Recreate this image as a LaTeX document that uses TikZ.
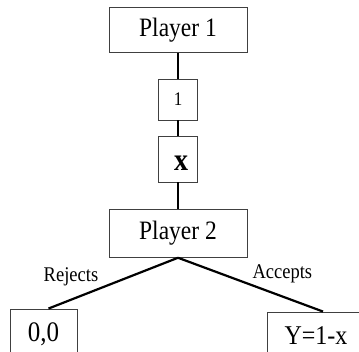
\documentclass[tikz,border=0pt]{standalone}
\usepackage{fontspec}
\usepackage{graphicx}
\setmainfont{Liberation Serif}
\newcommand{\tallt}[1]{\scalebox{1}[1.13]{#1}}
\tikzset{
	box/.style={draw=black!75, line width=0.9pt, rectangle, inner sep=0pt},
	edge/.style={line width=2.2pt},
}
\begin{document}
\begin{tikzpicture}[x=1pt, y=1pt]
				\clip (0,0) rectangle (359,-351);
				\node[box, minimum width=138, minimum height=45, font=\fontsize{23.5}{26}\selectfont] (p1) at (178,-30) {\tallt{Player 1}};
				\node[box, minimum width=39, minimum height=41, font=\fontsize{17}{20}\selectfont] (one) at (178,-99.5) {\tallt{1}};
				\node[box, minimum width=39, minimum height=46] (xbox) at (178,-159) {};
				\node[font=\fontsize{28}{30}\selectfont\bfseries] (xlab) at (181,-163) {\tallt{x}};
				\node[box, minimum width=138, minimum height=48, font=\fontsize{23.5}{26}\selectfont] (p2) at (178,-233.3) {\tallt{Player 2}};
				\node[box, minimum width=67, minimum height=51, font=\fontsize{25}{28}\selectfont] (rej) at (43.5,-334.5) {\tallt{0,0}};
				\node[box, minimum width=98, minimum height=48, font=\fontsize{24}{27}\selectfont] (acc) at (316,-336) {\tallt{Y=1-x}};
				\draw[edge] (p1.south) -- (one.north);
				\draw[edge] (one.south) -- (xbox.north);
				\draw[edge] (xbox.south) -- (p2.north);
				\draw[edge] (p2.south) -- ([xshift=5pt]rej.north) node[pos=0.6, above left, inner sep=1pt, font=\fontsize{18.5}{20}\selectfont]{\tallt{Rejects}};
				\draw[edge] (p2.south) -- ([xshift=7pt]acc.north) node[pos=0.5, above right, inner sep=1pt, font=\fontsize{18.5}{20}\selectfont]{\tallt{Accepts}};
			\end{tikzpicture}
\end{document}
